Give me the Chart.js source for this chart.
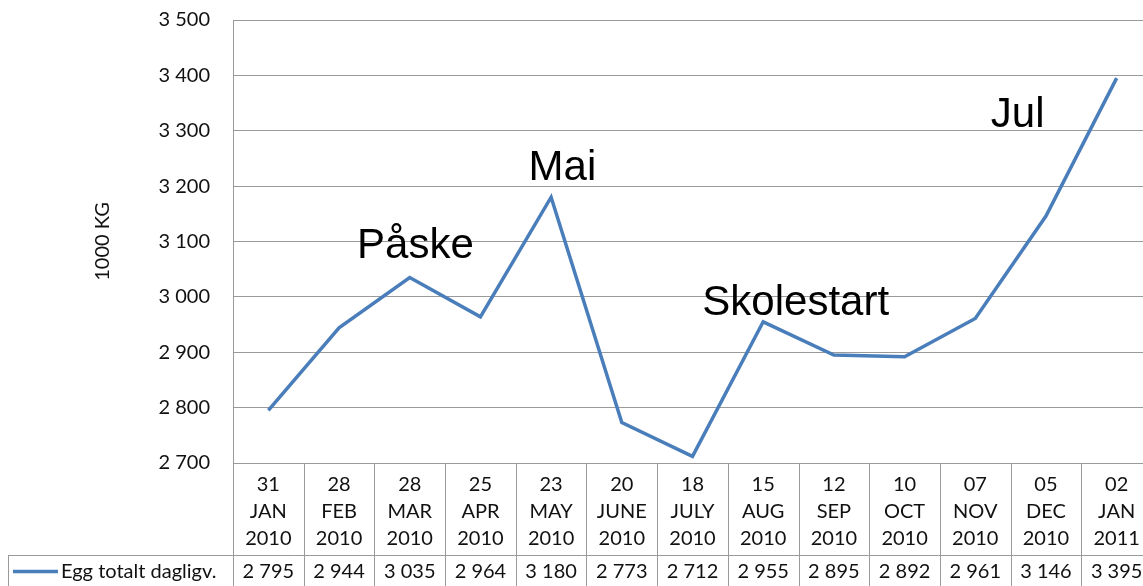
<!DOCTYPE html>
<html>
<head>
<meta charset="utf-8">
<script src="https://cdn.jsdelivr.net/npm/chart.js@4"></script>
<style>
  html, body { margin: 0; padding: 0; background: #fff; overflow: hidden; }
  #wrap { width: 1155px; height: 586px; position: relative; }
</style>
</head>
<body>
<div id="wrap"><canvas id="chart"></canvas></div>
<script>
const seriesName = "Egg totalt dagligv.";
const dateLabels = [
  ["31", "JAN", "2010"], ["28", "FEB", "2010"], ["28", "MAR", "2010"],
  ["25", "APR", "2010"], ["23", "MAY", "2010"], ["20", "JUNE", "2010"],
  ["18", "JULY", "2010"], ["15", "AUG", "2010"], ["12", "SEP", "2010"],
  ["10", "OCT", "2010"], ["07", "NOV", "2010"], ["05", "DEC", "2010"],
  ["02", "JAN", "2011"]
];
const eggValues = [2795, 2944, 3035, 2964, 3180, 2773, 2712, 2955, 2895, 2892, 2961, 3146, 3395];

const yMin = 2700;
const yMax = 3500;
const yStep = 100;
const yTitle = "1000 KG";

// holiday notes: text, category position, value at baseline
const noteTexts = ["Påske", "Mai", "Skolestart", "Jul"];
const noteIndex = [2.08, 4.16, 7.46, 10.6];
const noteValue = [3070, 3211, 2967, 3307];

const lineColor = "#4a7ebb";
const gridColor = "#9a9a9a";
const fontFam = "Lato, 'Open Sans', sans-serif";
const tableFont = "20px " + fontFam;

function fmt(v) {
  const th = Math.floor(v / 1000);
  const rest = String(v % 1000).padStart(3, "0");
  return th + " " + rest;
}

const tablePlugin = {
  id: "dataTable",
  afterDraw(chart) {
    const ctx = chart.ctx;
    const area = chart.chartArea;
    const xs = chart.scales.x;
    const bottom = chart.height;
    const rowTop = area.bottom + 92;

    ctx.save();
    ctx.strokeStyle = gridColor;
    ctx.lineWidth = 1;

    // column lines through the table
    for (let i = 0; i <= eggValues.length; i++) {
      const x = Math.round(xs.getPixelForValue(i - 0.5)) + 0.5;
      ctx.beginPath();
      ctx.moveTo(x, area.bottom);
      ctx.lineTo(x, bottom);
      ctx.stroke();
    }

    // data row box
    ctx.beginPath();
    ctx.moveTo(8, Math.round(rowTop) + 0.5);
    ctx.lineTo(chart.width, Math.round(rowTop) + 0.5);
    ctx.moveTo(8.5, rowTop);
    ctx.lineTo(8.5, bottom);
    ctx.stroke();

    const midY = (rowTop + bottom) / 2 + 1;

    // legend key
    ctx.strokeStyle = lineColor;
    ctx.lineWidth = 3.5;
    ctx.beginPath();
    ctx.moveTo(13, midY);
    ctx.lineTo(58, midY);
    ctx.stroke();

    ctx.fillStyle = "#111";
    ctx.font = tableFont;
    ctx.textBaseline = "middle";
    ctx.textAlign = "left";
    ctx.fillText(seriesName, 61, midY);

    ctx.textAlign = "center";
    eggValues.forEach((v, i) => {
      ctx.fillText(fmt(v), xs.getPixelForValue(i), midY);
    });
    ctx.restore();
  }
};

const notePlugin = {
  id: "notes",
  afterDatasetsDraw(chart) {
    const ctx = chart.ctx;
    const xs = chart.scales.x;
    const ys = chart.scales.y;
    ctx.save();
    ctx.fillStyle = "#000";
    ctx.font = "42px 'Liberation Sans', Arial, sans-serif";
    ctx.textAlign = "center";
    ctx.textBaseline = "alphabetic";
    noteTexts.forEach((t, i) => {
      ctx.fillText(t, xs.getPixelForValue(noteIndex[i]), ys.getPixelForValue(noteValue[i]));
    });
    ctx.restore();
  }
};

new Chart(document.getElementById("chart"), {
  type: "line",
  data: {
    labels: dateLabels,
    datasets: [{
      label: seriesName,
      data: eggValues,
      borderColor: lineColor,
      borderWidth: 3.5,
      pointRadius: 0,
      tension: 0,
      fill: false
    }]
  },
  options: {
    responsive: true,
    maintainAspectRatio: false,
    animation: false,
    layout: { padding: { top: 20, right: 3, left: 0, bottom: 0 } },
    plugins: {
      legend: { display: false },
      tooltip: { enabled: false }
    },
    scales: {
      x: {
        offset: true,
        grid: { display: false, offset: true },
        border: { display: true, color: gridColor, width: 1 },
        ticks: {
          autoSkip: false,
          maxRotation: 0,
          padding: 0,
          color: "#111",
          font: { family: fontFam, size: 20, lineHeight: 1.35 }
        },
        afterFit(scale) {
          scale.height = 123;
          scale.paddingLeft = 0;
          scale.paddingRight = 0;
        }
      },
      y: {
        min: yMin,
        max: yMax,
        ticks: {
          stepSize: yStep,
          padding: 23,
          color: "#111",
          font: { family: fontFam, size: 20 },
          callback: v => fmt(v)
        },
        grid: { color: gridColor, lineWidth: 1, drawTicks: false },
        border: { display: true, color: gridColor, width: 1 },
        title: {
          display: true,
          text: yTitle,
          color: "#111",
          font: { family: fontFam, size: 20 },
          padding: { top: 91, bottom: 0 }
        },
        afterFit(scale) {
          scale.width = 233;
          scale.paddingTop = 0;
          scale.paddingBottom = 0;
        }
      }
    }
  },
  plugins: [tablePlugin, notePlugin]
});
</script>
</body>
</html>
